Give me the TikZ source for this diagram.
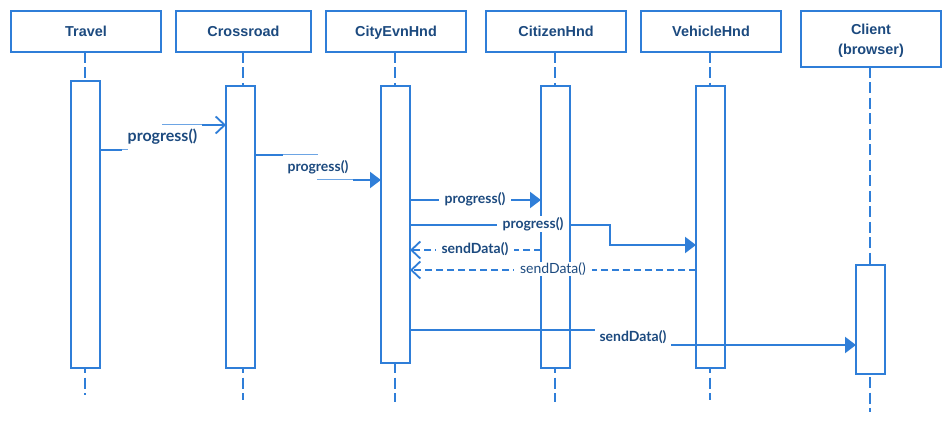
\documentclass[tikz,border=0pt]{standalone}
\usepackage{fontspec}
\setmainfont{Liberation Sans}
\newfontfamily\lblfont{Lato}
\usetikzlibrary{arrows.meta}
\definecolor{ln}{HTML}{2F7ED8}
\definecolor{tx}{HTML}{1C4A7F}
\tikzset{
  x=1pt,y=-1pt,
  head/.style={draw=ln,line width=2pt,fill=white,text=tx,font=\bfseries\fontsize{14.4}{20}\selectfont,align=center,inner sep=0pt,text depth=0pt,text height=10pt},
  actbox/.style={draw=ln,line width=2pt,fill=white},
  life/.style={draw=ln,line width=2pt,dash pattern=on 11pt off 4.5pt},
  msg/.style={draw=ln,line width=2pt},
  thin/.style={draw=ln!70,line width=1pt},
  lbl/.style={text=tx,font=\lblfont\bfseries\fontsize{14}{16}\selectfont,inner sep=1pt},
  lblbig/.style={text=tx,font=\lblfont\bfseries\fontsize{16}{18}\selectfont,inner sep=1pt},
  lblr/.style={text=tx,font=\lblfont\fontsize{14}{16}\selectfont,inner sep=1pt},
  fillarr/.style={-{Triangle[length=11pt,width=16pt]}},
  openarr/.style={-{Straight Barb[length=9pt,width=17pt,line width=1.8pt]}},
  dsh/.style={dash pattern=on 7pt off 4pt},
}
\begin{document}
\begin{tikzpicture}
\useasboundingbox[fill=white] (0,0) rectangle (950,427);
% lifelines
\draw[life] (85,52) -- (85,395);
\draw[life] (243,52) -- (243,400);
\draw[life] (395,52) -- (395,402);
\draw[life] (555,52) -- (555,402);
\draw[life] (710,52) -- (710,400);
\draw[life] (870,67) -- (870,412);
% headers
\node[head,minimum width=150pt,minimum height=41pt] (travel) at (86,31.5) {Travel};
\node[head,minimum width=135pt,minimum height=41pt] (cross) at (243.5,31.5) {Crossroad};
\node[head,minimum width=140pt,minimum height=41pt] (city) at (396,31.5) {CityEvnHnd};
\node[head,minimum width=140pt,minimum height=41pt] (citizen) at (556,31.5) {CitizenHnd};
\node[head,minimum width=140pt,minimum height=41pt] (vehicle) at (711,31.5) {VehicleHnd};
\node[head,minimum width=140pt,minimum height=56pt] (client) at (871,39) {};
\node[text=tx,font=\bfseries\fontsize{14.4}{20}\selectfont,align=center,inner sep=0pt] (clienttxt) at (871,41) {Client\\(browser)};
% activations
\path[actbox] (71,81) rectangle (100,368);
\path[actbox] (226,86) rectangle (255,368);
\path[actbox] (381,86) rectangle (410,363);
\path[actbox] (541,86) rectangle (570,368);
\path[actbox] (696,86) rectangle (725,368);
\path[actbox] (856,265) rectangle (885,374);
\coordinate (a1) at (100,150);
\coordinate (a2) at (255,155);
% message 1
\draw[msg] (a1) -- (122,150);
\draw[thin] (122,150) -- (128,150);
\node[lblbig] (l1) at (162.5,137) {progress()};
\draw[thin] (162,125) -- (202,125);
\draw[msg,openarr] (202,125) -- (226,125);
% message 2
\draw[msg] (a2) -- (283,155);
\draw[thin] (283,155) -- (318,155);
\node[lbl] (l2) at (318,167) {progress()};
\draw[thin] (317,180) -- (353,180);
\draw[msg,fillarr] (353,180) -- (381,180);
% message 3
\draw[msg,fillarr] (410,200) -- (541,200);
\node[lbl,fill=white,inner xsep=6pt] (l3) at (475,199) {progress()};
% message 4
\draw[msg,fillarr] (410,225) -- (610,225) -- (610,245) -- (696,245);
\node[lbl,fill=white,inner xsep=6pt] (l4) at (533,224) {progress()};
% message 5
\draw[msg,openarr,dsh] (541,250) -- (410,250);
\node[lbl,fill=white,inner xsep=6pt] (l5) at (475,249) {sendData()};
% message 6
\draw[msg,openarr,dsh] (696,270) -- (410,270);
\node[lblr,fill=white,inner xsep=6pt] (l6) at (553,269) {sendData()};
% message 7
\draw[msg] (410,330) -- (595,330);
\node[lbl] (l7) at (633,337) {sendData()};
\draw[msg,fillarr] (671,345) -- (856,345);
\end{tikzpicture}
\end{document}
